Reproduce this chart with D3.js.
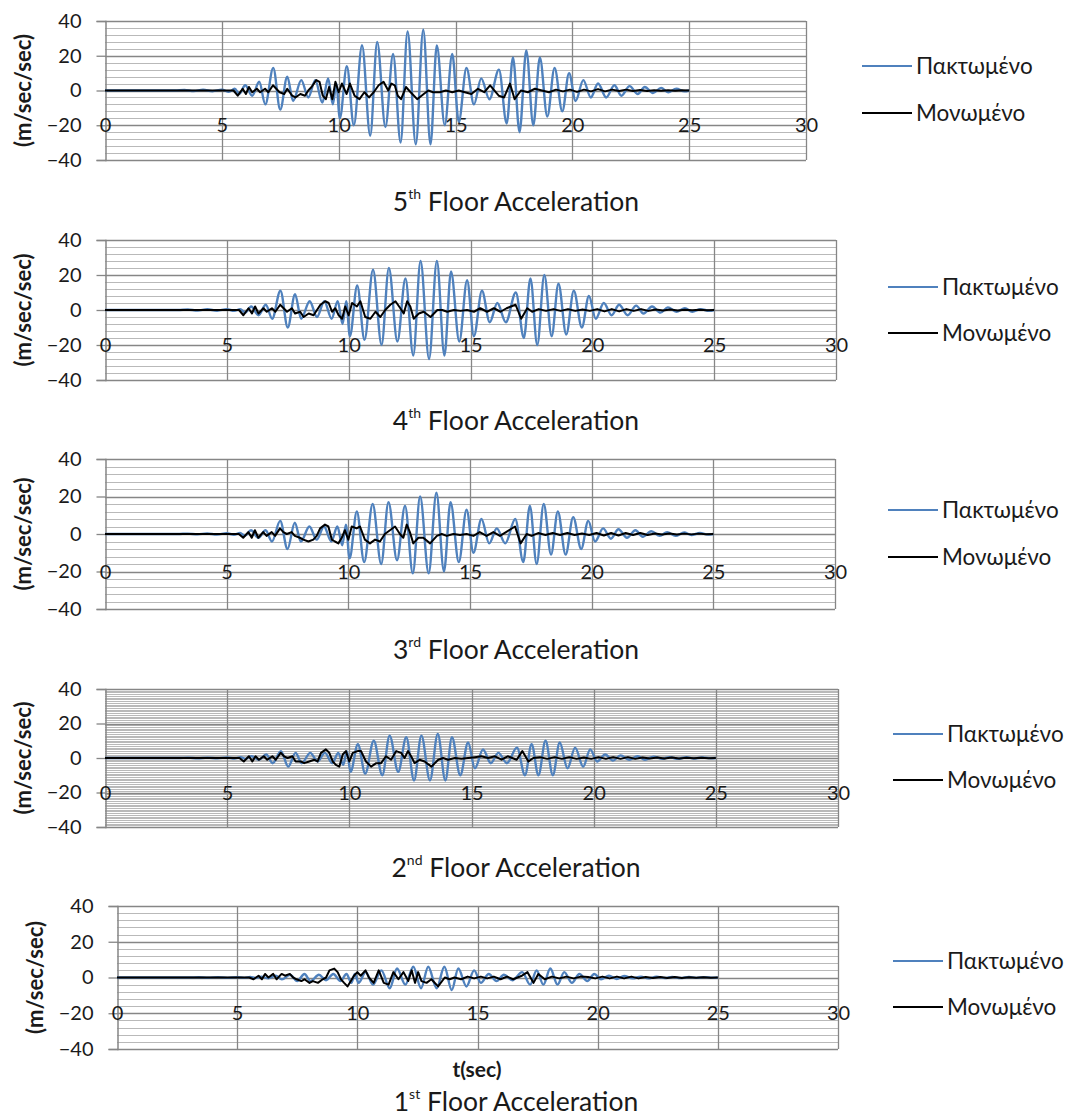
<!DOCTYPE html>
<html>
<head>
<meta charset="utf-8">
<script src="https://cdn.jsdelivr.net/npm/d3@7/dist/d3.min.js"></script>
<style>
  html, body { margin: 0; padding: 0; background: #fff; }
  svg { display: block; }
  text { font-family: Lato, "Open Sans", sans-serif; fill: #1a1a1a; }
</style>
</head>
<body>
<svg id="chart" width="1073" height="1117"></svg>
<script>
// ---------------- DATA ----------------
const xTicks = [0, 5, 10, 15, 20, 25, 30];
const yTicks = [-40, -20, 0, 20, 40];
const seriesNames = ["Πακτωμένο", "Μονωμένο"];
const floorTitles = ["5", "4", "3", "2", "1"];
const floorSups = ["th", "th", "rd", "nd", "st"];
const yAxisTitle = "(m/sec/sec)";
const xAxisTitle = "t(sec)";

// time instants (sec) of the extrema of the fixed-base (blue) response
const tBlue = [0, 3.0, 3.4, 3.8, 4.2, 4.6, 5.0, 5.3, 5.55, 5.75, 6.0, 6.3, 6.6, 6.86, 7.2, 7.5, 7.8, 8.05, 8.4, 8.7, 9.0, 9.3, 9.55, 9.75, 9.9, 10.05, 10.35, 10.65, 11.0, 11.35, 11.65, 12.0, 12.33, 12.65, 12.95, 13.3, 13.62, 13.93, 14.2, 14.54, 14.86, 15.14, 15.47, 15.79, 16.1, 16.45, 16.86, 17.19, 17.46, 17.74, 18.03, 18.33, 18.61, 18.93, 19.24, 19.57, 19.86, 20.14, 20.47, 20.79, 21.1, 21.45, 21.8, 22.1, 22.45, 22.8, 23.1, 23.45, 23.8, 24.1, 24.45, 24.8, 25.0];

// Πακτωμένο (fixed base) accelerations at those instants
const blue5 = [0, 0, 0.3, -0.3, 0.4, -0.4, 0.5, -0.8,
  1, -2, 3, -3, 5, -8, 13, -11, 8, -6,
  6, -4, 6, -7, 7, -8, 4, -16, 14, -20,
  26, -26, 28, -21, 21, -30, 34, -31, 35, -31,
  26, -20, 21, -18, 13, -8, 7, -5, 12, -19,
  19, -24, 23, -20, 19, -15, 13, -12, 10, -6,
  6, -4, 4, -4, 3, -3, 2.5, -2, 2, -1.5,
  1.5, -1, 1, -0.5, 0];
const blue4 = [0, 0, 0.3, -0.3, 0.4, -0.4, 0.5, -0.5,
  0.5, -1.5, 2, -3, 3, -5, 11, -10, 9, -5,
  5, -4, 5, -5, 5, -8, 5, -15, 14, -17,
  23, -20, 24, -18, 18, -26, 28, -28, 28, -26,
  22, -18, 17, -15, 11, -7, 4, -7, 10, -16,
  18, -20, 20, -15, 15, -14, 11, -10, 8, -5,
  4, -3, 3, -3, 2.5, -2, 2, -1.5, 1.5, -1,
  1, -1, 0.5, -0.5, 0];
const blue3 = [0, 0, 0.2, -0.2, 0.3, -0.3, 0.4, -0.4,
  0.5, -1, 2, -2, 2, -4, 7, -8, 6, -4,
  4, -3, 4, -4, 4, -6, 5, -13, 12, -15,
  16, -16, 17, -14, 15, -21, 20, -21, 22, -20,
  17, -15, 13, -10, 8, -5, 3, -5, 8, -15,
  15, -16, 16, -11, 12, -11, 9, -8, 7, -4,
  3, -2.5, 2.5, -2, 2, -1.5, 1.5, -1, 1, -1,
  0.8, -0.5, 0.5, -0.3, 0];
const blue2 = [0, 0, 0.2, -0.2, 0.2, -0.2, 0.3, -0.3,
  0.5, -0.5, 1, -1, 2, -3, 4, -5, 3, -3,
  3, -2, 3, -3, 3, -4, 4, -8, 8, -9,
  10, -10, 13, -8, 12, -13, 13, -13, 14, -13,
  12, -10, 9, -6, 5, -3, 3, -3, 6, -10,
  8, -10, 10, -10, 9, -6, 6, -5, 5, -2,
  2, -1.5, 1.5, -1, 1, -1, 0.8, -0.5, 0.5, -0.5,
  0.5, -0.3, 0.3, -0.2, 0];
const blue1 = [0, 0, 0.1, -0.1, 0.2, -0.2, 0.2, -0.2,
  0.3, -0.3, 0.5, -0.5, 1, -1, 1.5, -2, 2, -2,
  1.5, -1.5, 2, -2, 2, -3, 2, -3, 3, -4,
  4, -6, 5, -4, 6, -6, 6, -6, 6, -7,
  5, -5, 4, -3, 2, -2, 1.5, -1.5, 3, -4,
  4, -4, 5, -4, 3, -3, 2, -2, 2, -1,
  1, -0.8, 0.8, -0.5, 0.5, -0.5, 0.4, -0.3, 0.3, -0.3,
  0.3, -0.2, 0.2, -0.1, 0];

// time instants (sec) of the isolated (black) response samples
const tBlack = [0, 5.5, 5.68, 5.89, 6.03, 6.16, 6.3, 6.5, 6.64, 6.85, 6.99, 7.19, 7.33, 7.47, 7.67, 7.8, 8.01, 8.15, 8.36, 8.56, 8.7, 8.84, 9.04, 9.18, 9.32, 9.45, 9.59, 9.73, 9.86, 10.0, 10.14, 10.34, 10.48, 10.68, 10.89, 11.1, 11.3, 11.5, 11.71, 11.92, 12.12, 12.26, 12.4, 12.53, 12.67, 12.88, 13.08, 13.36, 13.64, 13.84, 14.04, 14.32, 14.59, 14.86, 15.14, 15.4, 15.68, 15.96, 16.23, 16.48, 16.85, 17.08, 17.33, 17.53, 17.8, 18.1, 18.4, 18.7, 19.0, 19.3, 19.6, 19.9, 20.2, 20.5, 20.8, 21.1, 21.4, 21.7, 22.0, 22.3, 22.6, 22.9, 23.2, 23.5, 23.8, 24.1, 24.4, 24.7, 25.0];

// Μονωμένο (base isolated) accelerations
const black5 = [0, 0, -3, 1, -2, 2, -1, 1, -1, 1,
  -1, 3, 1, -1, -2, 1, -3, -4, -2, -3,
  0, 2, 6, 5, -3, -5, 2, -5, 5, -1,
  4, -2, 4, -3, -5, -1, -4, -1, 3, 5,
  0, 4, 3, -3, -5, 2, -1, -5, -2, 0,
  -1, -1, 0, -1, 0, -1, -2, 1, -1, 3,
  -3, -4, 4, -5, 0, -1, 1, 0, -1, 0.5,
  -0.5, 0.5, -0.8, 0.5, -0.5, 0.8, -0.5, 0.5, -0.3, 0.5,
  -0.3, 0.3, -0.3, 0.2, -0.2, 0.2, -0.1, 0.1, 0];
const black4 = [0, 0, -3, 1, -2, 2, -2, 1, -1, 1,
  -1, 3, 1, -1, 1, -2, -1, -4, -2, -3,
  0, 3, 5, 4, -1, 1, -3, -5, 2, -3,
  4, 2, 5, -4, -5, -1, -4, 0, 3, 5,
  1, -2, 5, 2, -5, -2, -1, -4, 0, 0,
  -1, 0, -0.5, 0, -1, 1, -1, 1, -1, 1,
  3, -5, 1, -1, 0.5, -0.5, 0.5, -0.5, 0.5, -0.5,
  0.3, -0.5, 0.5, -0.8, 0.5, -0.8, 0.5, -0.5, 0.5, -0.5,
  0.3, -0.3, 0.3, -0.3, 0.2, -0.2, 0.2, -0.1, 0];
const black3 = [0, 0, -2, 1, -2, 2, -2, 1, -1, 1,
  -1, 3, 1, 0, 1, -1, -2, -3, -4, -3,
  -1, 3, 5, 4, -3, -4, -5, -2, 2, -3,
  4, 3, 4, -3, -5, -3, -4, 0, 2, 4,
  0, -2, 5, 1, -5, -2, -2, -5, -1, 0,
  -1, 0, -0.5, 0, -1, 1, -1, 1, -1, 1,
  4, -5, 0, -1, 0.5, -0.5, 0.5, -0.5, 0.5, -0.5,
  0.3, -0.5, 0.5, -0.8, 0.5, -0.8, 0.5, -0.5, 0.5, -0.5,
  0.3, -0.3, 0.3, -0.3, 0.2, -0.2, 0.2, -0.1, 0];
const black2 = [0, 0, -2, 1, -2, 1, -1, 1, -1, 1,
  -1, 3, 1, 0, 1, -2, -2, -3, -2, -1,
  -2, 3, 5, 3, -2, -4, -5, 2, 4, -2,
  3, 4, 4, -2, -5, -3, -3, 1, -1, 4,
  3, 0, 4, 1, -3, -1, -2, -5, -1, 0,
  -1, 0, -0.5, 0, 0.5, 1, 0, 1, -1, 1,
  -1, 4, -2, 0, 0.5, -0.5, 0.5, -0.5, 0.5, -0.5,
  0.3, -0.5, 0.5, -0.5, 0.5, -0.5, 0.5, -0.5, 0.3, -0.3,
  0.3, -0.3, 0.3, -0.3, 0.2, -0.2, 0.2, -0.1, 0];
const black1 = [0, 0, -1, 1, -1, 2, 0, 2, -1, 2,
  1, 2, 0, -1, -2, -1, -3, -2, -3, -1,
  0, 4, 5, 3, -1, -3, -5, -2, 1, 3,
  1, 4, 0, -3, 4, -3, -4, 3, -1, 3,
  -2, 4, -3, 3, -2, -3, -1, -5, 0, -1,
  0, -1, 0.5, -0.5, 0.5, -0.5, 0.5, -1, 0.5, -1,
  1, 3, -3, 2, -1, 0.5, -0.5, 0.5, -0.5, 0.5,
  0.3, -0.5, 0.5, -0.5, 0.5, -0.5, 0.5, -0.5, 0.3, -0.3,
  0.3, -0.3, 0.3, -0.3, 0.2, -0.2, 0.2, -0.1, 0];

const blueSeries = [blue5, blue4, blue3, blue2, blue1];
const blackSeries = [black5, black4, black3, black2, black1];

// ---------------- LAYOUT (pixels) ----------------
const layout = [
  { x0: 105, x1: 806, yT: 21,  yB: 160,  minorStep: 4, axTitleX: 23, legX: 862, legY1: 66,  legY2: 113,  titleY: 211 },
  { x0: 105, x1: 836, yT: 240, yB: 380,  minorStep: 4, axTitleX: 23, legX: 888, legY1: 287, legY2: 333,  titleY: 430 },
  { x0: 105, x1: 835, yT: 459, yB: 609,  minorStep: 4, axTitleX: 23, legX: 888, legY1: 510, legY2: 557,  titleY: 659 },
  { x0: 105, x1: 838, yT: 689, yB: 827,  minorStep: 1, axTitleX: 23, legX: 893, legY1: 734, legY2: 780,  titleY: 877 },
  { x0: 117, x1: 838, yT: 906, yB: 1049, minorStep: 4, axTitleX: 35, legX: 893, legY1: 961, legY2: 1007, titleY: 1111 }
];
const BLUE = "#4F81BD", BLACK = "#000000";
const MAJOR = "#868686", MINOR = "#b9b9b9";

const svg = d3.select("#chart");

layout.forEach((L, i) => {
  const x = d3.scaleLinear().domain([0, 30]).range([L.x0, L.x1]);
  const y = d3.scaleLinear().domain([-40, 40]).range([L.yB, L.yT]);
  const g = svg.append("g");

  // minor horizontal gridlines
  const minors = d3.range(-40, 40 + 1e-9, L.minorStep).filter(v => v % 20 !== 0);
  g.append("g").selectAll("line").data(minors).join("line")
    .attr("x1", x(0)).attr("x2", x(30))
    .attr("y1", d => Math.round(y(d)) + 0.5).attr("y2", d => Math.round(y(d)) + 0.5)
    .attr("stroke", MINOR).attr("stroke-width", 1);

  // major horizontal gridlines
  g.append("g").selectAll("line").data(yTicks).join("line")
    .attr("x1", x(0)).attr("x2", x(30))
    .attr("y1", d => Math.round(y(d)) + 0.5).attr("y2", d => Math.round(y(d)) + 0.5)
    .attr("stroke", MAJOR).attr("stroke-width", 1.3);

  // vertical gridlines
  g.append("g").selectAll("line").data(xTicks.filter(d => d > 0)).join("line")
    .attr("x1", d => Math.round(x(d)) + 0.5).attr("x2", d => Math.round(x(d)) + 0.5)
    .attr("y1", y(40)).attr("y2", y(-40))
    .attr("stroke", MAJOR).attr("stroke-width", 1.3);

  // y axis
  const yAx = g.append("g").attr("transform", `translate(${Math.round(x(0)) + 0.5},0)`)
    .call(d3.axisLeft(y).tickValues(yTicks).tickSize(9).tickPadding(15).tickFormat(d3.format("d")));
  yAx.select(".domain").attr("stroke", MAJOR).attr("stroke-width", 1.5);
  yAx.selectAll(".tick line").attr("stroke", MAJOR).attr("stroke-width", 1.3);
  yAx.selectAll(".tick text").attr("font-size", 20).attr("fill", "#1a1a1a")
    .style("font-family", "Lato, 'Open Sans', sans-serif");

  // x tick labels (sit on the -20 gridline, as in the source)
  const xAx = g.append("g").attr("transform", `translate(0,${y(-20)})`)
    .call(d3.axisBottom(x).tickValues(xTicks).tickSize(0).tickPadding(0));
  xAx.select(".domain").remove();
  xAx.selectAll(".tick text").attr("y", 0).attr("dy", "0.36em")
    .attr("font-size", 20).attr("fill", "#1a1a1a")
    .style("font-family", "Lato, 'Open Sans', sans-serif");

  // y axis title
  g.append("text")
    .attr("transform", `translate(${L.axTitleX},${y(0)}) rotate(-90)`)
    .attr("text-anchor", "middle").attr("dy", "0.35em")
    .attr("font-size", 22).attr("font-weight", "bold")
    .text(yAxisTitle);

  // series lines
  const blueData = tBlue.map((t, k) => [t, blueSeries[i][k]]);
  const blackData = tBlack.map((t, k) => [t, blackSeries[i][k]]);
  const lineB = d3.line().x(d => x(d[0])).y(d => y(d[1])).curve(d3.curveMonotoneX);
  const lineK = d3.line().x(d => x(d[0])).y(d => y(d[1])).curve(d3.curveLinear);
  g.append("path").datum(blueData).attr("d", lineB)
    .attr("fill", "none").attr("stroke", BLUE).attr("stroke-width", 2.4).attr("stroke-linejoin", "round");
  g.append("path").datum(blackData).attr("d", lineK)
    .attr("fill", "none").attr("stroke", BLACK).attr("stroke-width", 2).attr("stroke-linejoin", "round");

  // legend
  const leg = [[seriesNames[0], BLUE, L.legY1], [seriesNames[1], BLACK, L.legY2]];
  leg.forEach(([name, col, ly]) => {
    g.append("line").attr("x1", L.legX).attr("x2", L.legX + 50)
      .attr("y1", ly).attr("y2", ly).attr("stroke", col).attr("stroke-width", 1.8);
    g.append("text").attr("x", L.legX + 54).attr("y", ly).attr("dy", "0.35em")
      .attr("font-size", 22.5).text(name);
  });

  // chart title with superscript ordinal
  const tt = g.append("text").attr("x", 516).attr("y", L.titleY)
    .attr("text-anchor", "middle").attr("font-size", 26.5);
  tt.append("tspan").text(floorTitles[i]);
  tt.append("tspan").attr("font-size", 14).attr("dy", -12).text(floorSups[i]);
  tt.append("tspan").attr("dy", 12).text(" Floor Acceleration");

  if (i === layout.length - 1) {
    g.append("text").attr("x", 477).attr("y", 1077).attr("text-anchor", "middle")
      .attr("font-size", 21).attr("font-weight", "bold").text(xAxisTitle);
  }
});
</script>
</body>
</html>
